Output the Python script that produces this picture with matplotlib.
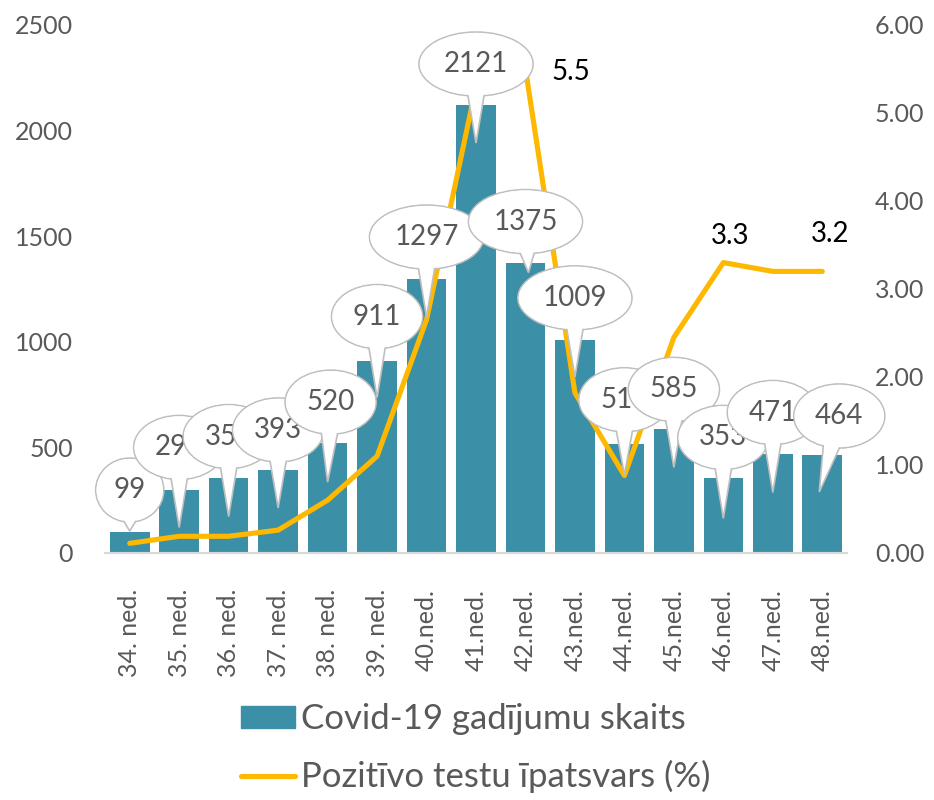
import numpy as np
import matplotlib
matplotlib.use("Agg")
import matplotlib.pyplot as plt
from matplotlib.patches import Ellipse, Polygon, Patch
from matplotlib.lines import Line2D
from matplotlib.transforms import IdentityTransform

# dati
weeks = ["34. ned.", "35. ned.", "36. ned.", "37. ned.", "38. ned.", "39. ned.",
         "40.ned.", "41.ned.", "42.ned.", "43.ned.", "44.ned.", "45.ned.",
         "46.ned.", "47.ned.", "48.ned."]
cases = [99, 296, 357, 393, 520, 911, 1297, 2121, 1375, 1009, 517, 585, 353, 471, 464]
positive = [0.11, 0.19, 0.19, 0.26, 0.60, 1.10, 2.65, 5.30, 5.50, 1.82, 0.88, 2.45, 3.30, 3.20, 3.20]
labelled_points = [8, 12, 14]
left_ticks = [0, 500, 1000, 1500, 2000, 2500]
right_ticks = [0, 1, 2, 3, 4, 5, 6]
bar_name = "Covid-19 gadījumu skaits"
line_name = "Pozitīvo testu īpatsvars (%)"

# callout placement (pixels, relative to bar top)
bubble_dx = [0, 0, 0, 0, 3, 0, 0, 0, 0, 0, 0, 0, 0, 0, 17]
bubble_up = [42, 43, 41, 40, 41, 44, 42, 41, 41, 42, 44, 40, 41, 41, 39]
tip_dx = [0, 0, 0, 0, 0, 0, 0, 0, 3, 0, 0, 0, 0, 0, -3]
tip_down = [-1, 37, 39, 38, 39, 37, 38, 38, 10, 37, 31, 38, 40, 39, 37]
line_lbl_off = {8: (45, -3), 12: (7, 27), 14: (8, 37)}

bar_color = "#3B8FA7"
line_color = "#FFB800"
grey = "#595959"
edge = "#BFBFBF"
FS = 18

plt.rcParams['font.family'] = ['Lato', 'DejaVu Sans']

fig = plt.figure(figsize=(9.34, 8.0), dpi=100)
ax = fig.add_axes([105 / 934, 1 - 553 / 800, (847 - 105) / 934, (553 - 25) / 800])
ax2 = ax.twinx()

x = np.arange(len(weeks))
ax.bar(x, cases, width=0.8, color=bar_color, zorder=2)
ax.set_xlim(-0.5, len(weeks) - 0.5)
ax.set_ylim(0, 2500)
ax.set_yticks(left_ticks)
ax.set_xticks(x)
ax.set_xticklabels(weeks, rotation=90, ha='center', va='top')
ax.tick_params(axis='x', length=0, pad=26, labelsize=FS, labelcolor=grey)
ax.tick_params(axis='y', length=0, pad=23, labelsize=FS, labelcolor=grey)

ax2.plot(x, positive, color=line_color, lw=3.7, solid_capstyle='round', zorder=3)
ax2.set_ylim(0, 6)
ax2.set_yticks(right_ticks)
ax2.set_yticklabels([f"{t:.2f}" for t in right_ticks])
ax2.tick_params(axis='y', length=0, pad=20, labelsize=FS, labelcolor=grey)

for a in (ax, ax2):
    for s in ("top", "left", "right"):
        a.spines[s].set_visible(False)
    a.spines["bottom"].set_color("#D9D9D9")
    a.spines["bottom"].set_linewidth(1.5)

for i in labelled_points:
    ox, oy = line_lbl_off[i]
    ax2.annotate(f"{positive[i]:.1f}", (x[i], positive[i]), xytext=(ox, oy),
                 textcoords='offset pixels', ha='center', va='center',
                 fontsize=20, color='black', zorder=5)

# speech bubbles, drawn in display pixels on the figure
ident = IdentityTransform()
for i, v in enumerate(cases):
    bx, by = ax.transData.transform((x[i], v))
    txt = str(v)
    w = 22 + 23 * len(txt)
    h = 64
    cx, cy = bx + bubble_dx[i], by + bubble_up[i]
    tx, ty = bx + tip_dx[i], by - tip_down[i]
    d = np.array([tx - cx, ty - cy], dtype=float)
    d /= np.hypot(*d)
    t = 1 / np.sqrt((d[0] / (w / 2)) ** 2 + (d[1] / (h / 2)) ** 2)
    p = np.array([cx, cy]) + t * d
    perp = np.array([-d[1], d[0]])
    b1 = p - 6 * d + 9 * perp
    b2 = p - 6 * d - 9 * perp
    z = 10 + i * 4
    fig.add_artist(Ellipse((cx, cy), w, h, transform=ident, fc='white', ec=edge,
                           lw=1.2, zorder=z))
    fig.add_artist(Polygon([b1, (tx, ty), b2], closed=True, transform=ident,
                           fc='white', ec=edge, lw=1.2, zorder=z + 1))
    fig.add_artist(Ellipse((cx, cy), w - 1.6, h - 1.6, transform=ident, fc='white',
                           ec='none', zorder=z + 2))
    fig.text(cx, cy, txt, transform=ident, ha='center', va='center',
             fontsize=20, color=grey, zorder=z + 3)

handles = [Patch(color=bar_color),
           Line2D([], [], color=line_color, lw=3.7, solid_capstyle='round')]
fig.legend(handles, [bar_name, line_name], loc='upper left',
           bbox_to_anchor=(241 / 934, 1 - 703 / 800), frameon=False, fontsize=25,
           labelcolor=grey, handlelength=1.55, handleheight=0.58, handletextpad=0.17,
           labelspacing=0.72, borderpad=0, borderaxespad=0)

fig.savefig("out.png", dpi=100)
